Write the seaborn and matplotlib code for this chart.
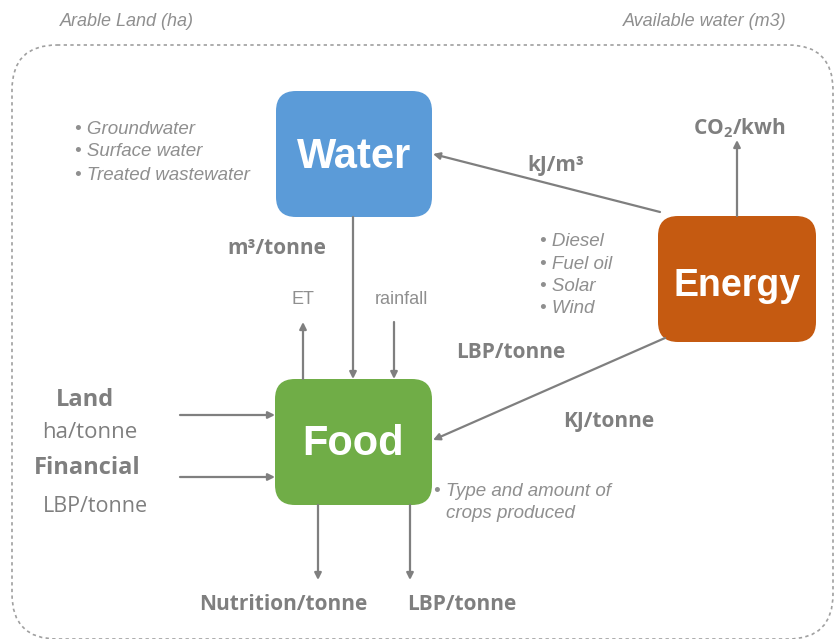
import matplotlib
matplotlib.use("Agg")
import matplotlib.pyplot as plt
from matplotlib.patches import FancyBboxPatch
import seaborn as sns

# content of the diagram
nodes = ["Water", "Energy", "Food"]
corner_notes = ["Arable Land (ha)", "Available water (m3)"]
water_sources = ["Groundwater", "Surface water", "Treated wastewater"]
energy_sources = ["Diesel", "Fuel oil", "Solar", "Wind"]
food_note = ["Type and amount of", "crops produced"]
flow_labels = ["kJ/m\u00b3", "CO$_2$/kwh", "m\u00b3/tonne", "LBP/tonne", "KJ/tonne",
               "Nutrition/tonne", "LBP/tonne"]
small_labels = ["ET", "rainfall"]
input_titles = ["Land", "Financial"]
input_units = ["ha/tonne", "LBP/tonne"]

# layout (pixel space, y downwards)
boxes = {"Water": (276, 91, 156, 126), "Energy": (658, 216, 158, 126), "Food": (275, 379, 157, 126)}
box_colors = {"Water": "#5b9bd8", "Energy": "#c55a11", "Food": "#70ad47"}
box_fs = {"Water": 30, "Energy": 27, "Food": 30}
text_shift = {"Water": 3, "Energy": 7, "Food": 2}

GRAY = "#7f7f7f"
LGRAY = "#8f8f8f"
SANS = ["Liberation Sans", "DejaVu Sans"]
LABEL = ["Open Sans", "DejaVu Sans"]

sns.set_theme(style="white")
plt.rcParams["font.family"] = SANS
plt.rcParams["mathtext.fontset"] = "custom"
plt.rcParams["mathtext.rm"] = "Open Sans:bold"
plt.rcParams["mathtext.it"] = "Open Sans:bold"
plt.rcParams["mathtext.bf"] = "Open Sans:bold"
plt.rcParams["mathtext.default"] = "rm"

fig = plt.figure(figsize=(8.34, 6.39), dpi=100)
ax = fig.add_axes([0, 0, 1, 1])
ax.set_xlim(0, 834)
ax.set_ylim(639, 0)
ax.axis("off")

# dotted frame
frame = FancyBboxPatch((12, 45), 821, 594, boxstyle="round,pad=0,rounding_size=45",
                       fill=False, edgecolor="#a0a0a0", lw=1.2, linestyle=(0, (2, 2)))
ax.add_patch(frame)
ax.text(60, 22, corner_notes[0], style="italic", color=LGRAY, fontsize=13, va="center", family=SANS)
ax.text(787, 22, corner_notes[1], style="italic", color=LGRAY, fontsize=13, va="center",
        ha="right", family=SANS)

for name in nodes:
    x, y, w, h = boxes[name]
    ax.add_patch(FancyBboxPatch((x, y), w, h, boxstyle="round,pad=0,rounding_size=20",
                                facecolor=box_colors[name], edgecolor="none"))
    ax.text(x + w / 2, y + h / 2 + text_shift[name], name, color="white", fontsize=box_fs[name],
            fontweight="bold", ha="center", va="center", family=SANS)


def arrow(tail, head):
    ax.annotate("", xy=head, xytext=tail,
                arrowprops=dict(arrowstyle="-|>", color=GRAY, lw=1.6, mutation_scale=10,
                                shrinkA=0, shrinkB=0))


wx, wy, ww, wh = boxes["Water"]
ex, ey, ew, eh = boxes["Energy"]
fx, fy, fw, fh = boxes["Food"]

arrow((ex + 2, ey - 4), (wx + ww + 1, 154))           # energy -> water
arrow((737, ey), (737, 140))                            # CO2
arrow((353, wy + wh), (353, fy))                        # water -> food
arrow((303, fy), (303, 322))                            # ET
arrow((394, 322), (394, fy))                            # rainfall
arrow((ex + 7, ey + eh - 4), (fx + fw + 1, 440))        # energy -> food
arrow((180, 415), (fx, 415))                            # land
arrow((180, 477), (fx, 477))                            # financial
arrow((318, fy + fh), (318, 580))                       # nutrition
arrow((410, fy + fh), (410, 580))                       # LBP out

bold = dict(color=GRAY, fontsize=15, fontweight="bold", ha="center", va="center", family=LABEL)
label_pos = [(556, 165), (739, 128), (277, 249), (511, 352), (609, 421), (283, 604), (462, 604)]
for (x, y), t in zip(label_pos, flow_labels):
    ax.text(x, y, t, **bold)

ax.text(303, 300, small_labels[0], color=LGRAY, fontsize=13, ha="center", va="center", family=SANS)
ax.text(401, 300, small_labels[1], color=LGRAY, fontsize=13, ha="center", va="center", family=SANS)

for i, t in enumerate(input_titles):
    ax.text(85 + i * 2, 400 + i * 68, t, **dict(bold, fontsize=17))
norm = dict(color=GRAY, ha="center", va="center", family=LABEL)
ax.text(90, 432, input_units[0], fontsize=16, **norm)
ax.text(95, 507, input_units[1], fontsize=15.5, **norm)

it = dict(color=LGRAY, fontsize=13.5, style="italic", va="center", family=SANS)
for i, t in enumerate(water_sources):
    ax.text(75, 129 + i * 23, "\u2022 " + t, **it)
for i, t in enumerate(energy_sources):
    ax.text(540, 242 + i * 22.3, "\u2022 " + t, **it)
ax.text(434, 491, "\u2022 " + food_note[0], **it)
ax.text(446, 513, food_note[1], **it)

fig.savefig("out.png", dpi=100)
